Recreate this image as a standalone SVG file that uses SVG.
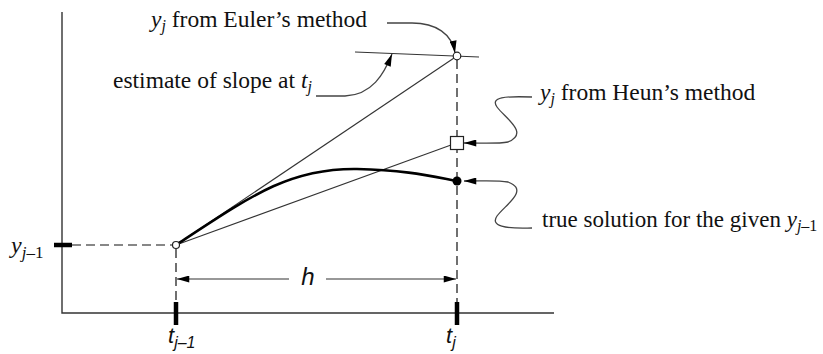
<svg xmlns="http://www.w3.org/2000/svg" width="823" height="354" viewBox="0 0 823 354">
<defs>
<style>
.txt{font-family:"Liberation Serif","Times New Roman",serif;font-size:23.5px;fill:#111}
.it{font-style:italic}
.sub{font-size:16px}
.sans{font-family:"Liberation Sans",Arial,sans-serif;font-style:italic;fill:#111}
.thin{stroke:#333;stroke-width:1.1;fill:none}
.dash{stroke:#111;stroke-width:1.2;fill:none;stroke-dasharray:9 5}
.lead{stroke:#444;stroke-width:1.3;fill:none}
.tick{stroke:#000;stroke-width:4.5}
</style>
<marker id="ah" viewBox="0 0 14 8" refX="14" refY="4" markerWidth="14" markerHeight="7" markerUnits="userSpaceOnUse" orient="auto">
<path d="M0,0 L14,4 L0,8 Z" fill="#000"/>
</marker>
</defs>
<g id="axes">
<path class="thin" d="M62,12 L62,313 L554,313" style="stroke-width:1.4"/>
<line class="tick" x1="54" y1="245" x2="72" y2="245"/>
<line class="tick" x1="176" y1="302" x2="176" y2="325"/>
<line class="tick" x1="457" y1="302" x2="457" y2="325"/>
</g>
<g id="guides">
<line class="dash" x1="72" y1="245" x2="173" y2="245"/>
<line class="dash" x1="176" y1="249" x2="176" y2="302"/>
<line class="dash" x1="457" y1="60" x2="457" y2="302"/>
</g>
<g id="connectors">
<line class="thin" x1="176" y1="245" x2="457" y2="56"/>
<line class="thin" x1="176" y1="245" x2="451" y2="145"/>
<line class="thin" x1="355" y1="52" x2="479" y2="57"/>
<path d="M176,245 C252,195 290,168 357,169 C405,170 430,176 457,181" fill="none" stroke="#000" stroke-width="2.6"/>
<line class="thin" x1="289" y1="279" x2="177" y2="279" marker-end="url(#ah)"/>
<line class="thin" x1="326" y1="279" x2="456" y2="279" marker-end="url(#ah)"/>
<path class="lead" d="M387,23 L412,23 C436,23 452,34 455,53" marker-end="url(#ah)"/>
<path class="lead" d="M316,96 L345,96 C372,95 384,74 392,54" marker-end="url(#ah)"/>
<path class="lead" d="M532,97 C505,96 490,97 497,107 C505,118 530,133 508,142 C498,144 485,143 464,143" marker-end="url(#ah)"/>
<path class="lead" d="M532,228 C505,229 490,226 497,216 C505,205 530,190 508,182 C498,180 485,181 464,181" marker-end="url(#ah)"/>
</g>
<g id="point-start">
<circle cx="176" cy="245" r="3.5" fill="#fff" stroke="#222" stroke-width="1.2"/>
</g>
<g id="point-euler">
<circle cx="457" cy="56" r="3.8" fill="#fff" stroke="#222" stroke-width="1.2"/>
</g>
<g id="point-heun">
<rect x="450.5" y="136.5" width="13" height="13" fill="#fff" stroke="#222" stroke-width="1.2"/>
</g>
<g id="point-true">
<circle cx="457" cy="181" r="4.5" fill="#000"/>
</g>
<g id="labels">
<text class="txt" x="151" y="27"><tspan class="it">y</tspan><tspan class="it sub" dy="4">j</tspan><tspan dy="-4"> from Euler’s method</tspan></text>
<text class="txt" x="113" y="88">estimate of slope at <tspan class="it">t</tspan><tspan class="it sub" dy="4">j</tspan></text>
<text class="txt" x="540" y="100"><tspan class="it">y</tspan><tspan class="it sub" dy="4">j</tspan><tspan dy="-4"> from Heun’s method</tspan></text>
<text class="txt" x="542" y="227" style="font-size:23px">true solution for the given <tspan class="it">y</tspan><tspan class="it sub" dy="4">j</tspan><tspan class="sub">–1</tspan></text>
<text class="txt" x="11" y="253" style="font-size:24px"><tspan class="it">y</tspan><tspan class="it sub" dy="5" style="font-size:17px">j</tspan><tspan style="font-size:17px">–1</tspan></text>
<text class="sans" x="168" y="343" style="font-size:22px">t<tspan dy="5" style="font-size:16px">j–1</tspan></text>
<text class="sans" x="446" y="343" style="font-size:22px">t<tspan dy="5" style="font-size:16px">j</tspan></text>
<text class="sans" x="308" y="285" text-anchor="middle" style="font-size:24px">h</text>
</g>
</svg>
